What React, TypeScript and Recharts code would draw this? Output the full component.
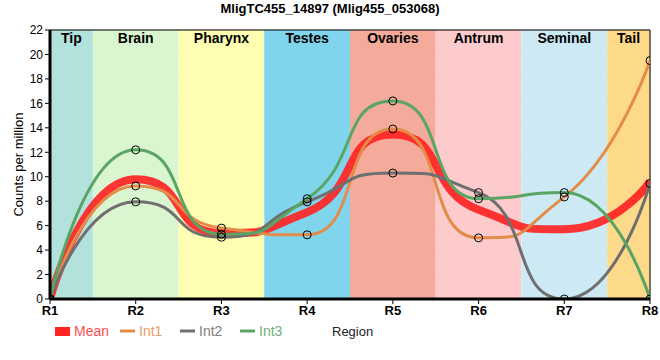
import React from "react";
import {
  LineChart,
  Line,
  XAxis,
  YAxis,
  CartesianGrid,
  ReferenceArea,
  ReferenceLine,
} from "recharts";

const regions = ["R1", "R2", "R3", "R4", "R5", "R6", "R7", "R8"];
const int1 = [0, 9.25, 5.8, 5.25, 13.9, 5.0, 8.35, 19.5];
const int2 = [0, 7.95, 5.05, 7.95, 10.3, 8.7, 0, 9.45];
const int3 = [0, 12.2, 5.3, 8.2, 16.2, 8.2, 8.7, 0];
const mean = [0, 9.8, 5.4, 7.1, 13.45, 7.3, 5.7, 9.6];
const yTicks = [0, 2, 4, 6, 8, 10, 12, 14, 16, 18, 20, 22];

const bandNames = ["Tip", "Brain", "Pharynx", "Testes", "Ovaries", "Antrum", "Seminal", "Tail"];
const bandStart = [1, 1.5, 2.5, 3.5, 4.5, 5.5, 6.5, 7.5];
const bandEnd = [1.5, 2.5, 3.5, 4.5, 5.5, 6.5, 7.5, 8];
const bandColors = ["#b3e2dd", "#d9f6d0", "#ffffb4", "#80d5ec", "#f5ab9c", "#fdcbcc", "#cdeaf4", "#fdd98a"];

const seriesColors = ["#ff2424", "#e38c48", "#6f6f6f", "#5aa464"];

const data = regions.map((r, i) => ({
  x: i + 1,
  name: r,
  mean: mean[i],
  int1: int1[i],
  int2: int2[i],
  int3: int3[i],
}));

const FONT = "'Liberation Sans', Arial, sans-serif";

const dotStyle = { r: 4, stroke: "#000", strokeWidth: 1, fill: "none" };

// Smoothed spline: control points at a fraction F of each interval,
// flattened at local extremes, unsmoothed at the end points.
const F = 0.62;
function splineCurve(context: any) {
  let xs: number[] = [];
  let ys: number[] = [];
  let line = NaN;
  return {
    areaStart() { line = 0; },
    areaEnd() { line = NaN; },
    lineStart() { xs = []; ys = []; },
    point(x: number, y: number) { xs.push(+x); ys.push(+y); },
    lineEnd() {
      const n = xs.length;
      if (n === 0) return;
      const lcx: number[] = [], lcy: number[] = [], rcx: number[] = [], rcy: number[] = [];
      for (let i = 0; i < n; i++) {
        const px = xs[i], py = ys[i];
        if (i > 0 && i < n - 1) {
          const lastX = xs[i - 1], lastY = ys[i - 1], nextX = xs[i + 1], nextY = ys[i + 1];
          let lx = px + F * (lastX - px);
          let ly = py + F * (lastY - py);
          let rx = px + F * (nextX - px);
          let ry = py + F * (nextY - py);
          let correction = 0;
          if (rx !== lx) {
            correction = ((ry - ly) * (rx - px)) / (rx - lx) + py - ry;
          }
          ly += correction;
          ry += correction;
          if (ly > lastY && ly > py) {
            ly = Math.max(lastY, py);
            ry = 2 * py - ly;
          } else if (ly < lastY && ly < py) {
            ly = Math.min(lastY, py);
            ry = 2 * py - ly;
          }
          if (ry > nextY && ry > py) {
            ry = Math.max(nextY, py);
            ly = 2 * py - ry;
          } else if (ry < nextY && ry < py) {
            ry = Math.min(nextY, py);
            ly = 2 * py - ry;
          }
          lcx[i] = lx; lcy[i] = ly; rcx[i] = rx; rcy[i] = ry;
        } else {
          lcx[i] = px; lcy[i] = py; rcx[i] = px; rcy[i] = py;
        }
      }
      if (line) context.lineTo(xs[0], ys[0]);
      else context.moveTo(xs[0], ys[0]);
      for (let i = 1; i < n; i++) {
        context.bezierCurveTo(rcx[i - 1], rcy[i - 1], lcx[i], lcy[i], xs[i], ys[i]);
      }
      if (line || (line !== 0 && n === 1)) context.closePath();
      line = 1 - line;
    },
  };
}

export default function App() {
  return (
    <div style={{ position: "absolute", left: 0, top: 0, width: 660, height: 360, fontFamily: FONT, background: "#fff" }}>
      <div
        style={{
          position: "absolute",
          left: 0,
          top: 1,
          width: 660,
          textAlign: "center",
          fontWeight: "bold",
          fontSize: 13,
          color: "#000",
        }}
      >
        MligTC455_14897 (Mlig455_053068)
      </div>
      <LineChart
        width={660}
        height={360}
        data={data}
        margin={{ top: 30, right: 10, bottom: 0, left: 0 }}
      >
        {bandNames.map((b, i) => (
          <ReferenceArea
            key={b}
            x1={bandStart[i]}
            x2={bandEnd[i]}
            y1={0}
            y2={22}
            fill={bandColors[i]}
            fillOpacity={1}
            strokeWidth={0}
            ifOverflow="visible"
            label={{
              value: b,
              position: "insideTop",
              fill: "#000",
              fontWeight: "bold",
              fontSize: 14,
              fontFamily: FONT,
              offset: 3,
            }}
          />
        ))}
        <CartesianGrid stroke="#c8c8c8" strokeWidth={1} />
        <XAxis
          type="number"
          dataKey="x"
          domain={[1, 8]}
          ticks={[1, 2, 3, 4, 5, 6, 7, 8]}
          tickFormatter={(v: number) => regions[v - 1]}
          axisLine={{ stroke: "#000", strokeWidth: 3 }}
          tickLine={{ stroke: "#000", strokeWidth: 1 }}
          tickSize={5}
          height={61}
          tick={{ fill: "#000", fontSize: 13, fontWeight: "bold", fontFamily: FONT }}
          allowDataOverflow
        />
        <YAxis
          domain={[0, 22]}
          ticks={yTicks}
          width={50}
          axisLine={{ stroke: "#000", strokeWidth: 3 }}
          tickLine={{ stroke: "#000", strokeWidth: 1 }}
          tickSize={5}
          tick={{ fill: "#000", fontSize: 12, fontFamily: FONT }}
          label={{
            value: "Counts per million",
            angle: -90,
            position: "insideLeft",
            offset: 18,
            style: { textAnchor: "middle", fill: "#000", fontSize: 13, fontFamily: FONT },
          }}
          allowDataOverflow
        />
        <ReferenceLine y={22} stroke="#000" strokeWidth={1} />
        <ReferenceLine x={8} stroke="#000" strokeWidth={1} />
        <Line
          type={splineCurve as any}
          dataKey="mean"
          stroke={seriesColors[0]}
          strokeOpacity={0.92}
          strokeWidth={8}
          dot={false}
          activeDot={false}
          isAnimationActive={false}
        />
        <Line
          type={splineCurve as any}
          dataKey="int1"
          stroke={seriesColors[1]}
          strokeWidth={3}
          dot={dotStyle}
          activeDot={false}
          isAnimationActive={false}
        />
        <Line
          type={splineCurve as any}
          dataKey="int2"
          stroke={seriesColors[2]}
          strokeWidth={3}
          dot={dotStyle}
          activeDot={false}
          isAnimationActive={false}
        />
        <Line
          type={splineCurve as any}
          dataKey="int3"
          stroke={seriesColors[3]}
          strokeWidth={3}
          dot={dotStyle}
          activeDot={false}
          isAnimationActive={false}
        />
      </LineChart>
      <svg style={{ position: "absolute", left: 0, top: 318 }} width={660} height={30}>
        <rect x={55} y={9} width={15} height={9} fill={seriesColors[0]} />
        <text x={74} y={18} fontSize={14} fontFamily={FONT} fill="#ff4d4d">Mean</text>
        <line x1={120} y1={13} x2={135} y2={13} stroke={seriesColors[1]} strokeWidth={3} />
        <text x={139} y={18} fontSize={14} fontFamily={FONT} fill="#eb9d66">Int1</text>
        <line x1={180} y1={13} x2={195} y2={13} stroke={seriesColors[2]} strokeWidth={3} />
        <text x={199} y={18} fontSize={14} fontFamily={FONT} fill="#808080">Int2</text>
        <line x1={240} y1={13} x2={255} y2={13} stroke={seriesColors[3]} strokeWidth={3} />
        <text x={259} y={18} fontSize={14} fontFamily={FONT} fill="#6cb077">Int3</text>
        <text x={332} y={18} fontSize={13} fontFamily={FONT} fill="#222">Region</text>
      </svg>
    </div>
  );
}
